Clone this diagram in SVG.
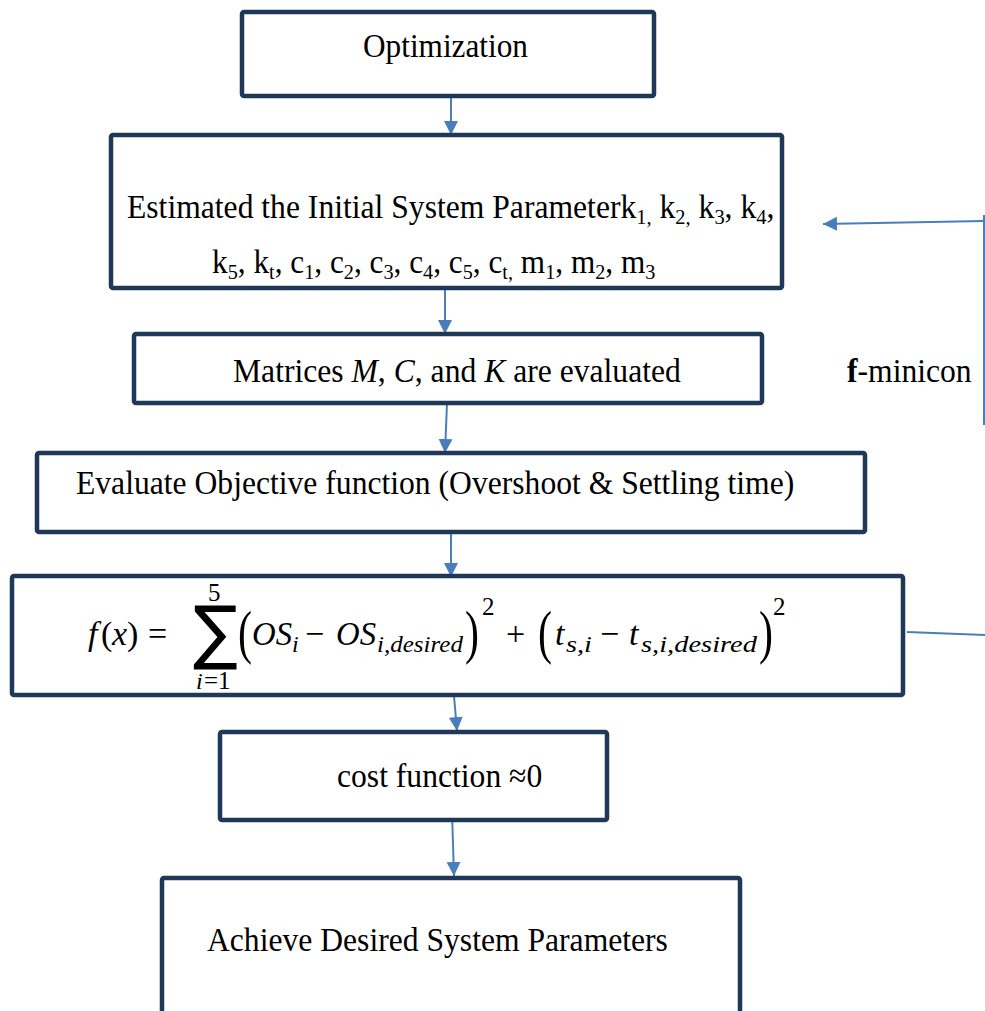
<svg xmlns="http://www.w3.org/2000/svg" width="985" height="1011" viewBox="0 0 985 1011">
<style>
.box{fill:#fff;stroke:#203858;stroke-width:4.5}
.t{font-family:"Liberation Serif","Times New Roman",serif;font-size:34px;fill:#000}
.m{font-family:"Liberation Serif","Times New Roman",serif;font-style:italic;font-size:34px;fill:#000}
.mn{font-family:"Liberation Serif","Times New Roman",serif;font-size:34px;fill:#000}
.ms{font-family:"Liberation Serif","Times New Roman",serif;font-style:italic;font-size:24px;fill:#000}
.ns{font-family:"Liberation Serif","Times New Roman",serif;font-size:25px;fill:#000}
.par{font-family:"Liberation Serif","Times New Roman",serif;font-size:60px;fill:#000}
.sig{font-family:"DejaVu Sans",sans-serif;font-size:70px;fill:#000}
.sub{font-size:22px}
.c{fill:none;stroke:#4a7ebb;stroke-width:2}
</style>
<defs>
<marker id="ah" markerUnits="userSpaceOnUse" markerWidth="16" markerHeight="16" refX="14" refY="7" orient="auto">
<path d="M0,0 L14,7 L0,14 z" fill="#4a7ebb"/>
</marker>
</defs>
<rect width="985" height="1011" fill="#fff"/>
<g id="connectors">
<line class="c" x1="451" y1="96" x2="451" y2="135" marker-end="url(#ah)"/>
<line class="c" x1="445" y1="288" x2="445" y2="334" marker-end="url(#ah)"/>
<line class="c" x1="447" y1="403" x2="445" y2="453" marker-end="url(#ah)"/>
<line class="c" x1="451" y1="517" x2="451" y2="577" marker-end="url(#ah)"/>
<line class="c" x1="454" y1="696" x2="457" y2="731" marker-end="url(#ah)"/>
<line class="c" x1="452" y1="812" x2="454" y2="876" marker-end="url(#ah)"/>
<line class="c" x1="907" y1="632" x2="986" y2="635"/>
<line class="c" x1="984" y1="215" x2="984" y2="425"/>
<line class="c" x1="984" y1="221" x2="823" y2="224" marker-end="url(#ah)"/>
</g>
<g id="n1">
<rect class="box" x="242" y="12" width="412" height="84" rx="2"/>
<text class="t" transform="matrix(0.92 0 0 1 363 57)">Optimization</text>
</g>
<g id="n2">
<rect class="box" x="111" y="135" width="671" height="153" rx="2"/>
<text class="t" transform="matrix(0.93 0 0 1 127 218)">Estimated the Initial System Parameterk<tspan class="sub" dy="6">1,</tspan><tspan dy="-6"> k</tspan><tspan class="sub" dy="6">2,</tspan><tspan dy="-6"> k</tspan><tspan class="sub" dy="6">3</tspan><tspan dy="-6">, k</tspan><tspan class="sub" dy="6">4</tspan><tspan dy="-6">,</tspan></text>
<text class="t" transform="matrix(0.92 0 0 1 212 273)">k<tspan class="sub" dy="6">5</tspan><tspan dy="-6">, k</tspan><tspan class="sub" dy="6">t</tspan><tspan dy="-6">, c</tspan><tspan class="sub" dy="6">1</tspan><tspan dy="-6">, c</tspan><tspan class="sub" dy="6">2</tspan><tspan dy="-6">, c</tspan><tspan class="sub" dy="6">3</tspan><tspan dy="-6">, c</tspan><tspan class="sub" dy="6">4</tspan><tspan dy="-6">, c</tspan><tspan class="sub" dy="6">5</tspan><tspan dy="-6">, c</tspan><tspan class="sub" dy="6">t,</tspan><tspan dy="-6"> m</tspan><tspan class="sub" dy="6">1</tspan><tspan dy="-6">, m</tspan><tspan class="sub" dy="6">2</tspan><tspan dy="-6">, m</tspan><tspan class="sub" dy="6">3</tspan></text>
</g>
<g id="n3">
<rect class="box" x="134" y="334" width="628" height="69" rx="2"/>
<text class="t" transform="matrix(0.93 0 0 1 233 382)">Matrices <tspan font-style="italic">M</tspan>, <tspan font-style="italic">C</tspan>, and <tspan font-style="italic">K</tspan> are evaluated</text>
</g>
<g id="n4">
<rect class="box" x="37" y="453" width="828" height="79" rx="2"/>
<text class="t" transform="matrix(0.93 0 0 1 76 494)">Evaluate Objective function (Overshoot &amp; Settling time)</text>
</g>
<g id="n5">
<rect class="box" x="12" y="576" width="891" height="119" rx="2"/>
<text class="m" x="88" y="645">f</text>
<text class="mn" x="101" y="645">(</text>
<text class="m" x="112" y="645">x</text>
<text class="mn" x="127" y="645">)</text>
<text class="mn" x="148" y="645">=</text>
<text class="sig" transform="matrix(0.95 0 0 1 193 656)">∑</text>
<text class="ns" x="208" y="601">5</text>
<text class="ms" x="196" y="689">i</text>
<text class="ns" x="204" y="689">=1</text>
<text class="par" transform="matrix(0.7 0 0 1 238 652)">(</text>
<text class="m" x="252" y="645" textLength="40" lengthAdjust="spacingAndGlyphs">OS</text>
<text class="ms" x="292" y="652">i</text>
<text class="mn" x="305" y="645">−</text>
<text class="m" x="336" y="645" textLength="40" lengthAdjust="spacingAndGlyphs">OS</text>
<text class="ms" x="377" y="652" textLength="86" lengthAdjust="spacingAndGlyphs">i,desired</text>
<text class="par" transform="matrix(0.7 0 0 1 465 652)">)</text>
<text class="ns" x="482" y="615">2</text>
<text class="mn" x="506" y="645">+</text>
<text class="par" transform="matrix(0.7 0 0 1 538 652)">(</text>
<text class="m" x="555" y="645">t</text>
<text class="ms" x="566" y="652" textLength="26" lengthAdjust="spacingAndGlyphs">s,i</text>
<text class="mn" x="600" y="645">−</text>
<text class="m" x="629" y="645">t</text>
<text class="ms" x="641" y="652" textLength="116" lengthAdjust="spacingAndGlyphs">s,i,desired</text>
<text class="par" transform="matrix(0.7 0 0 1 759 652)">)</text>
<text class="ns" x="773" y="615">2</text>
</g>
<g id="n6">
<rect class="box" x="220" y="732" width="387" height="88" rx="2"/>
<text class="t" transform="matrix(0.93 0 0 1 337 787)">cost function ≈0</text>
</g>
<g id="n7">
<rect class="box" x="162" y="878" width="578" height="145" rx="2"/>
<text class="t" transform="matrix(0.93 0 0 1 207 951)">Achieve Desired System Parameters</text>
</g>
<g id="label">
<text class="t" transform="matrix(0.93 0 0 1 847 382)"><tspan font-weight="bold">f</tspan>-minicon</text>
</g>
</svg>
